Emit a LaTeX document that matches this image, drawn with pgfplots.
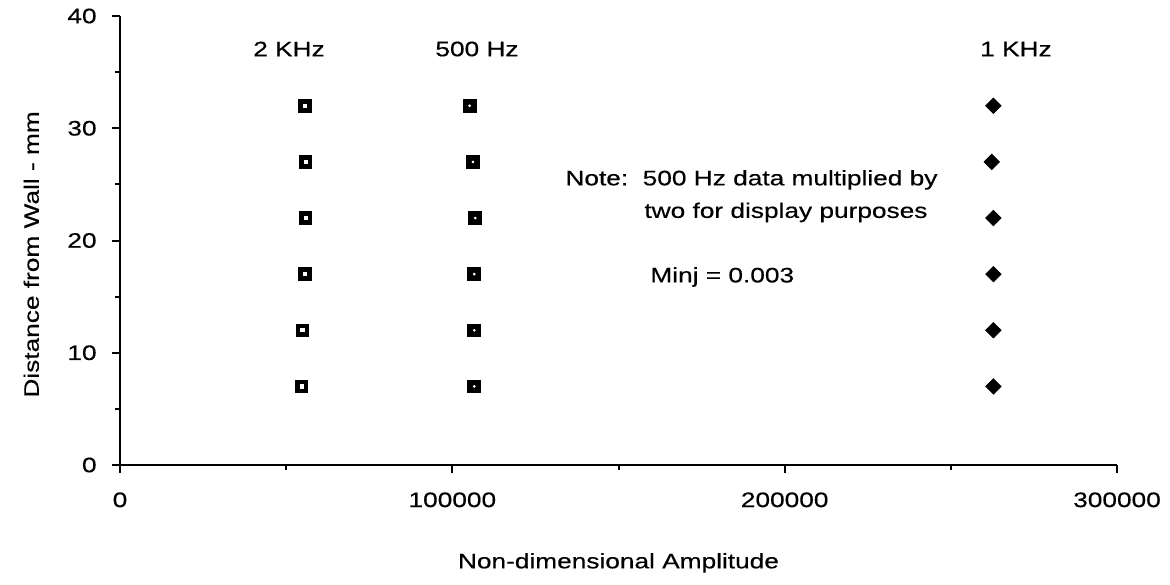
\documentclass[border=0pt]{standalone}
\usepackage{pgfplots}
\pgfplotsset{compat=1.18}
\usepackage{fontspec}
\setmainfont[FakeStretch=1.25, FakeBold=0.4]{Liberation Sans}

% Profile of amplitude across the wall region for three frequencies
\pgfplotstableread{
amp     dist
55700   32
55900   27
55900   22
55700   17
54900   12
54700   7
}\twokhz
\pgfplotstableread{
amp     dist
105200  32
106200  27
106900  22
106600  17
106600  12
106600  7
}\fivehundred
\pgfplotstableread{
amp     dist
262800  32
262300  27
262800  22
262800  17
262800  12
262800  7
}\onekhz

\begin{document}
\fontsize{10.5}{12}\selectfont
\begin{tikzpicture}
\path[use as bounding box] (-60pt,-59.5pt) rectangle (525pt,232.5pt);
\begin{axis}[
  at={(0,0)}, anchor=south west,
  scale only axis,
  width=498.5pt, height=224.5pt,
  xmin=0, xmax=300000, ymin=0, ymax=40,
  axis x line*=bottom, axis y line*=left,
  axis line style={line width=1.3pt, -},
  tick align=outside,
  major tick length=4pt, minor tick length=2.5pt,
  every tick/.style={line width=1pt, black},
  xtick={0,100000,200000,300000},
  minor xtick={50000,150000,250000},
  ytick={0,10,20,30,40},
  minor ytick={5,15,25,35},
  scaled ticks=false,
  /pgf/number format/fixed,
  /pgf/number format/precision=0,
  /pgf/number format/assume math mode=true,
  /pgf/number format/set thousands separator={},
  xticklabel style={font=\fontsize{10.5}{12}\selectfont, yshift=-6pt},
  yticklabel style={font=\fontsize{10.5}{12}\selectfont, xshift=-4pt},
  xlabel={Non-dimensional Amplitude},
  ylabel={Distance from Wall - mm},
  xlabel style={at={(axis description cs:0.5,-0.218)}, anchor=center, font=\fontsize{10.5}{12}\selectfont},
  ylabel style={at={(axis description cs:-0.089,0.469)}, anchor=center, font=\fontsize{10.5}{12}\selectfont},
  clip=false,
]
% 2 KHz: open squares with heavy outline
\addplot[only marks, mark=square, mark size=2.2pt,
  mark options={line width=2.3pt, black}] table[x=amp, y=dist] {\twokhz};
% 500 Hz: filled squares with a small light centre
\addplot[only marks, mark=square*, mark size=3.2pt,
  mark options={black}] table[x=amp, y=dist] {\fivehundred};
\addplot[only marks, mark=*, mark size=0.45pt,
  mark options={white, draw=white}] table[x=amp, y=dist] {\fivehundred};
% 1 KHz: filled diamonds
\addplot[only marks, mark=square*, mark size=2.7pt,
  mark options={black, rotate=45, rounded corners=0.8pt}] table[x=amp, y=dist] {\onekhz};

\node at (axis cs:50850,37.06) {2 KHz};
\node at (axis cs:107420,37.06) {500 Hz};
\node at (axis cs:269600,37.06) {1 KHz};
\node[anchor=west] at (axis cs:131800,25.4) {Note:\ \ 500 Hz data multiplied by};
\node[anchor=west] at (axis cs:155570,22.5) {two for display purposes};
\node[anchor=west] at (axis cs:157370,16.75) {Minj = 0.003};
\end{axis}
\end{tikzpicture}
\end{document}
